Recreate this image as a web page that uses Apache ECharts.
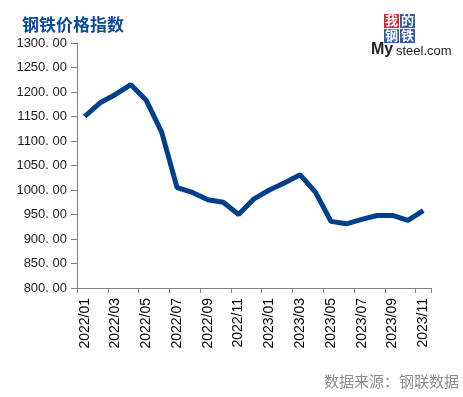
<!DOCTYPE html>
<html><head><meta charset="utf-8">
<script src="https://cdn.jsdelivr.net/npm/echarts@6/dist/echarts.min.js"></script>
<style>html,body{margin:0;padding:0;background:#fff}#c{width:463px;height:397px}</style>
</head><body><div id="c"></div>
<script>
const categories = ['2022/01','2022/02','2022/03','2022/04','2022/05','2022/06','2022/07','2022/08','2022/09','2022/10','2022/11','2022/12',
  '2023/01','2023/02','2023/03','2023/04','2023/05','2023/06','2023/07','2023/08','2023/09','2023/10','2023/11'];
const values = [1150,1178,1195,1215,1183,1118,1005,995,980,975,950,982,1000,1015,1031,995,936,931,940,948,948,938,958];
const titleText = '钢铁价格指数';
const sourceText = '数据来源：钢联数据';

const chart = echarts.init(document.getElementById('c'), null, {renderer:'canvas'});
chart.setOption({
  animation:false,
  backgroundColor:'#fff',
  title:{text:titleText,left:17,top:11,textStyle:{fontFamily:'Noto Sans CJK SC',fontWeight:'bold',fontSize:17,color:'#0b4a9a'}},
  grid:{left:77,right:32,top:43,bottom:109},
  xAxis:{type:'category',data:categories,boundaryGap:true,
    axisLine:{lineStyle:{color:'#808080',width:1}},
    axisTick:{show:true,interval:1,length:5,lineStyle:{color:'#808080'}},
    axisLabel:{interval:1,rotate:90,margin:10,fontFamily:'Liberation Sans, Arial',fontSize:14,color:'#000'}},
  yAxis:{type:'value',min:800,max:1300,interval:50,
    axisLine:{show:true,lineStyle:{color:'#808080',width:1}},
    axisTick:{show:true,length:6,lineStyle:{color:'#808080'}},
    splitLine:{show:false},
    axisLabel:{margin:10,fontFamily:'Liberation Sans, Arial',fontSize:13,color:'#1a1a1a',formatter:v=>v.toFixed(2).replace('.', '. ')}},
  series:[{type:'line',data:values,symbol:'none',lineStyle:{color:'#003f8c',width:5},z:3}],
  graphic:[
    {type:'text',right:4,top:374,style:{text:sourceText,font:'15px "Noto Sans CJK SC"',fill:'#8c8c8c'}},
    {type:'rect',shape:{x:384,y:14,width:15,height:14},style:{fill:'#d8262e'}},
    {type:'rect',shape:{x:400,y:14,width:15,height:14},style:{fill:'#2e5ca8'}},
    {type:'rect',shape:{x:384,y:29,width:15,height:14},style:{fill:'#2e5ca8'}},
    {type:'rect',shape:{x:400,y:29,width:15,height:14},style:{fill:'#2e5ca8'}},
    {type:'text',x:385,y:14,style:{text:'我',font:'bold 13px "Noto Sans CJK SC"',fill:'#fff'}},
    {type:'text',x:401,y:14,style:{text:'的',font:'bold 13px "Noto Sans CJK SC"',fill:'#fff'}},
    {type:'text',x:385,y:29,style:{text:'钢',font:'bold 13px "Noto Sans CJK SC"',fill:'#fff'}},
    {type:'text',x:401,y:29,style:{text:'铁',font:'bold 13px "Noto Sans CJK SC"',fill:'#fff'}},
    {type:'text',x:371,y:42,style:{text:'My',font:'bold 16px "Liberation Sans"',fill:'#222'}},
    {type:'text',x:396,y:45,style:{text:'steel.com',font:'13px "Liberation Sans"',fill:'#222'}}
  ]
});
</script></body></html>
